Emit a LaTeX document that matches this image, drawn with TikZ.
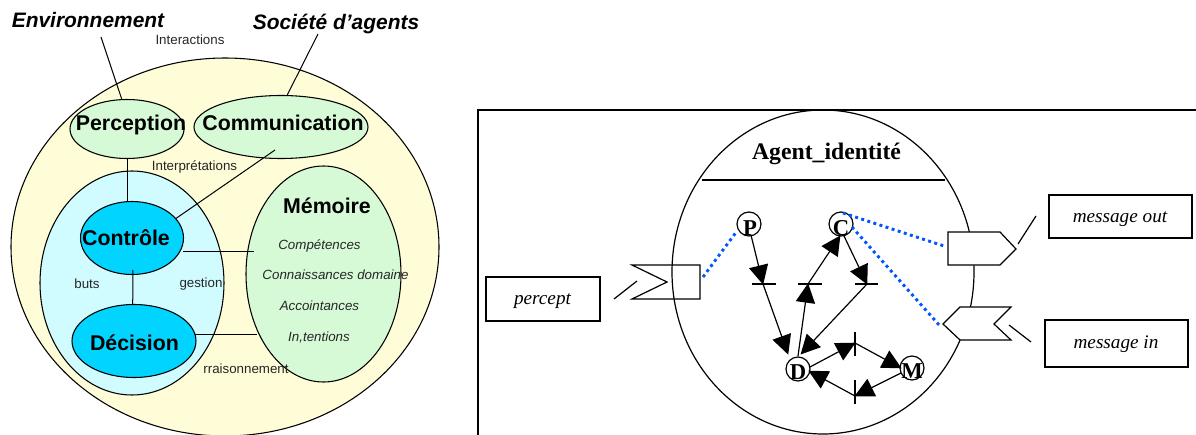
\documentclass[tikz,border=0pt]{standalone}
\usepackage{fontspec}
\setmainfont{Liberation Sans}
\newfontfamily\tms{Liberation Serif}
\usetikzlibrary{shapes.geometric,arrows.meta}
\definecolor{outerc}{HTML}{FFFCD8}
\definecolor{greenc}{HTML}{D6FAD6}
\definecolor{paleb}{HTML}{D0FCFF}
\definecolor{cyanc}{HTML}{00D4FF}
\definecolor{bluedot}{HTML}{0055FF}
\tikzset{
  ell/.style n args={3}{ellipse,draw=black,line width=0.8pt,fill=#1,inner sep=0pt,minimum width=#2*0.75pt,minimum height=#3*0.75pt},
  lnk/.style={draw=black,line width=0.75pt},
  tbig/.style={anchor=base,font=\fontsize{15.7}{18}\selectfont\bfseries\itshape,inner sep=0pt},
  tnode/.style={anchor=base,font=\fontsize{16}{18}\selectfont\bfseries,inner sep=0pt},
  tsmall/.style={anchor=base,font=\fontsize{10}{12}\selectfont,inner sep=0pt,text=black!85},
  tital/.style={anchor=base,font=\fontsize{10}{12}\selectfont\itshape,inner sep=0pt,text=black!85},
  place/.style={circle,draw=black,line width=0.9pt,fill=white,inner sep=0pt,minimum size=24*0.75pt},
  letter/.style={anchor=base,font=\tms\fontsize{17}{18}\selectfont\bfseries,inner sep=0pt},
  bar/.style={line width=0.9pt},
  arc/.style={line width=0.9pt,-{Triangle[length=14.5pt,width=14.5pt]},shorten >=-0.5pt},
  plain/.style={line width=0.9pt},
  port/.style={draw=black,line width=0.9pt},
  dots/.style={draw=bluedot,line width=2.2pt,dash pattern=on 2.2pt off 2.6pt},
  ibox/.style={draw=black,line width=0.9pt,fill=white,inner sep=0pt},
  itext/.style={anchor=base,inner sep=0pt,font=\tms\fontsize{14.4}{16}\selectfont\itshape},
}
\begin{document}
\begin{tikzpicture}[x=0.75pt,y=-0.75pt]
\useasboundingbox (0,0) rectangle (1196,435);
% ---------- left diagram
\begin{scope}
\clip (0,0) rectangle (1196,435);
\node[ell={outerc}{428}{378}] (outer) at (225,247) {};
\end{scope}
\node[ell={paleb}{184}{224}] (inner) at (132,283) {};
\node[ell={greenc}{155}{216}] (mem) at (323.5,274) {};
\node[ell={greenc}{114}{59}] (perc) at (127,129) {};
\node[ell={greenc}{174}{63}] (comm) at (281,127) {};
\node[ell={cyanc}{103}{73}] (ctrl) at (132,238) {};
\node[ell={cyanc}{124}{73}] (deci) at (134,341) {};

\node[tbig] (env) at (88,28) {Environnement};
\node[tbig] (soc) at (336,30) {Société d’agents};
\node[tnode] (percT) at (131,131) {Perception};
\node[tnode] (commT) at (283,131) {Communication};
\node[tnode] (ctrlT) at (126,245) {Contrôle};
\node[tnode] (deciT) at (134.5,350) {Décision};
\node[tnode] (memT) at (327,213) {Mémoire};
\node[tsmall] (inter) at (190,45) {Interactions};
\node[tsmall] (interp) at (194.5,170) {Interprétations};
\node[tsmall] (buts) at (87,288) {buts};
\node[tsmall] (gest) at (201,287) {gestion};
\node[tsmall] (rais) at (246,373) {rraisonnement};
\node[tital] (comp) at (319.5,249) {Compétences};
\node[tital] (conn) at (335.5,279) {Connaissances domaine};
\node[tital] (acco) at (319.5,310) {Accointances};
\node[tital] (intn) at (319,341) {In,tentions};

\coordinate (envEnd) at (101,37);
\coordinate (socEnd) at (318,34);
\coordinate (commIn) at (275,150);
\coordinate (memA) at (254,251);
\coordinate (memB) at (257,334);
\coordinate (ctrlIn) at (133,270);
\coordinate (ctrlR) at (183,251);
\coordinate (deciR) at (195,334);
\draw[lnk] (envEnd) -- (perc.100);
\draw[lnk] (socEnd) -- (comm.79);
\draw[lnk] (127,158) -- (127,202);
\draw[lnk] (commIn) -- (ctrl.24);
\draw[lnk] (ctrlR) -- (memA);
\draw[lnk] (ctrlIn) -- (deci.92);
\draw[lnk] (deciR) -- (memB);

% ---------- right diagram
\draw[line width=1.3pt] (1196,110) -- (478,110) -- (478,435);
\node[ellipse,draw=black,line width=0.9pt,inner sep=0pt,minimum width=302*0.75pt,minimum height=324*0.75pt] (agent) at (823,272) {};
\draw[plain] (702,180) -- (945,180);
\node[anchor=base,font=\tms\fontsize{17.8}{20}\selectfont\bfseries,inner sep=0pt] (agT) at (826.5,159) {Agent\_identité};

\node[ibox,minimum width=114*0.75pt,minimum height=44*0.75pt] (percept) at (543,299) {};
\node[ibox,minimum width=143*0.75pt,minimum height=43*0.75pt] (mout) at (1120.5,216.5) {};
\node[ibox,minimum width=143*0.75pt,minimum height=47*0.75pt] (min) at (1116.5,343.5) {};
\node[itext] (perceptT) at (542.5,304) {percept};
\node[itext] (moutT) at (1120,222) {message out};
\node[itext] (minT) at (1116,348) {message in};

\draw[port] (632,265) -- (700,265) -- (700,299) -- (632,299) -- (667,282) -- cycle;
\draw[port,fill=white] (948,232) -- (1000,232) -- (1016,249) -- (1000,265) -- (948,265) -- cycle;
\draw[port,fill=white] (943,324) -- (960,307) -- (1011,307) -- (994,324) -- (1011,340) -- (960,340) -- cycle;
\draw[plain] (614,299) -- (637,281);
\draw[plain] (1018,244) -- (1036,216);
\draw[plain] (1009,325) -- (1031,342);

\node[place] (P) at (749,224) {};
\node[place] (C) at (841,224) {};
\node[place] (D) at (798,369) {};
\node[place] (M) at (912,368) {};
\node[letter] (Pl) at (750,235) {P};
\node[letter] (Cl) at (841,235) {C};
\node[letter] (Dl) at (798,379) {D};
\node[letter] (Ml) at (912,378) {M};

\coordinate (t1) at (763,284);
\coordinate (t2) at (808,284);
\coordinate (t3) at (867,284);
\coordinate (t4) at (855,343);
\coordinate (t5) at (855,396);
\draw[bar] (752,284) -- (776,284);
\draw[bar] (798,284) -- (822,284);
\draw[bar] (855,284) -- (878,284);
\draw[bar] (855,332) -- (855,356);
\draw[bar] (855,380) -- (855,404);

\draw[arc] (751,235) -- (t1);
\draw[arc] (t1) -- (788,354);
\draw[arc] (798,356) -- (t2);
\draw[arc] (t2) -- (840,236);
\draw[arc] (844,236) -- (t3);
\draw[arc] (t3) -- (801,354);
\draw[arc] (810,367) -- (t4);
\draw[arc] (t4) -- (901,368);
\draw[arc] (901,373) -- (t5);
\draw[arc] (t5) -- (809,371);

\draw[dots] (703,277) -- (737,231);
\draw[dots] (843,213) -- (944,246);
\draw[dots] (852,227) -- (940,326);
\end{tikzpicture}
\end{document}
